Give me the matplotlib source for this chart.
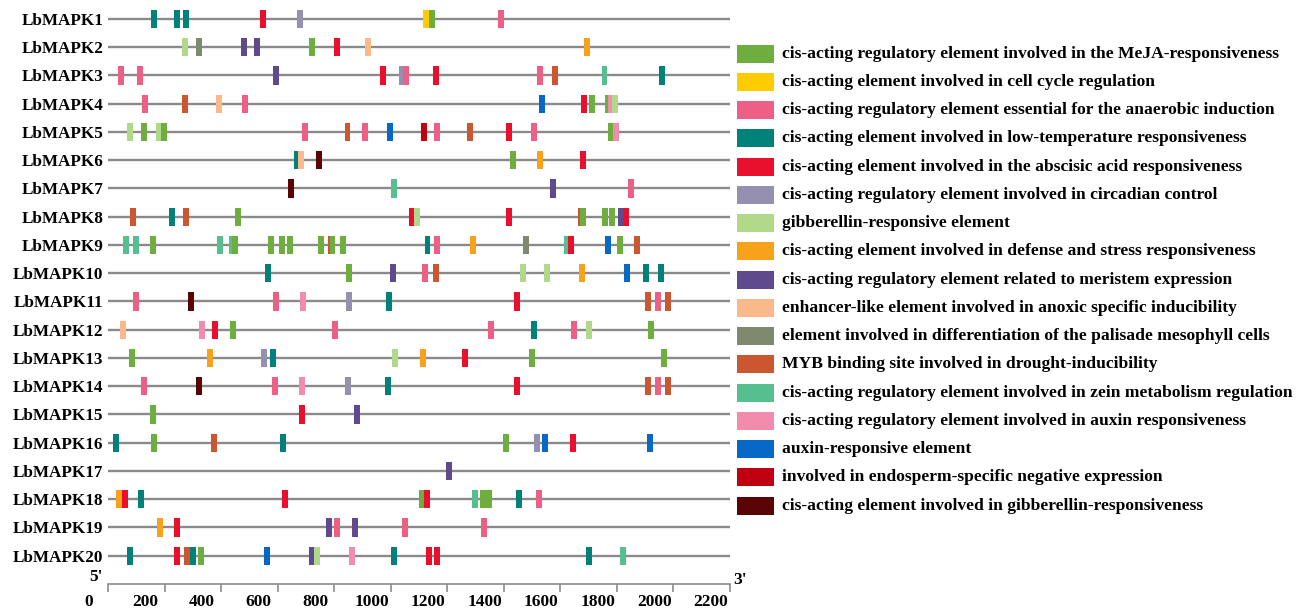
import numpy as np
import matplotlib.pyplot as plt
from matplotlib.transforms import ScaledTranslation

plt.rcParams['font.family'] = 'Liberation Serif'
plt.rcParams['font.weight'] = 'bold'

# element categories (legend order) and their colours
codes = ['MJ', 'CC', 'AN', 'LT', 'ABA', 'CI', 'GA', 'DS', 'ME',
         'AX', 'PA', 'MY', 'ZE', 'AU', 'AR', 'EN', 'GR']
labels = [
    'cis-acting regulatory element involved in the MeJA-responsiveness',
    'cis-acting element involved in cell cycle regulation',
    'cis-acting regulatory element essential for the anaerobic induction',
    'cis-acting element involved in low-temperature responsiveness',
    'cis-acting element involved in the abscisic acid responsiveness',
    'cis-acting regulatory element involved in circadian control',
    'gibberellin-responsive element',
    'cis-acting element involved in defense and stress responsiveness',
    'cis-acting regulatory element related to meristem expression',
    'enhancer-like element involved in anoxic specific inducibility',
    'element involved in differentiation of the palisade mesophyll cells',
    'MYB binding site involved in drought-inducibility',
    'cis-acting regulatory element involved in zein metabolism regulation',
    'cis-acting regulatory element involved in auxin responsiveness',
    'auxin-responsive element',
    'involved in endosperm-specific negative expression',
    'cis-acting element involved in gibberellin-responsiveness',
]
colors = ['#6DAE3E', '#FFCC00', '#EE5F86', '#00827A', '#E8102C', '#9590B0',
          '#B0D98A', '#F7A21B', '#5E4A8C', '#F9B98A', '#7F8970', '#CC5630',
          '#55BF8F', '#F28CAC', '#0868C8', '#C00010', '#5A0505']
color_of = dict(zip(codes, colors))

genes = ['LbMAPK%d' % i for i in range(1, 21)]

# promoter elements per gene: (position, element)
sites = [
    [(163, 'LT'), (244, 'LT'), (275, 'LT'), (549, 'ABA'), (678, 'CI'),
     (1124, 'CC'), (1146, 'MJ'), (1389, 'AN')],
    [(273, 'GA'), (321, 'PA'), (481, 'ME'), (526, 'ME'), (720, 'MJ'),
     (810, 'ABA'), (919, 'AX'), (1694, 'DS')],
    [(46, 'AN'), (112, 'AN'), (594, 'ME'), (974, 'ABA'), (1039, 'CI'),
     (1054, 'AN'), (1161, 'ABA'), (1529, 'AN'), (1582, 'MY'), (1756, 'ZE'),
     (1958, 'LT')],
    [(130, 'AN'), (272, 'MY'), (393, 'AX'), (486, 'AN'), (1536, 'AR'),
     (1685, 'ABA'), (1712, 'MJ'), (1769, 'MJ'), (1780, 'AU'), (1792, 'GA')],
    [(78, 'GA'), (127, 'MJ'), (181, 'GA'), (199, 'MJ'), (698, 'AN'),
     (847, 'MY'), (910, 'AN'), (999, 'AR'), (1119, 'EN'), (1164, 'AN'),
     (1280, 'MY'), (1419, 'ABA'), (1508, 'AN'), (1779, 'MJ'), (1796, 'AU')],
    [(668, 'LT'), (683, 'AX'), (746, 'GR'), (1433, 'MJ'), (1528, 'DS'),
     (1680, 'ABA')],
    [(647, 'GR'), (1012, 'ZE'), (1575, 'ME'), (1849, 'AN')],
    [(88, 'MY'), (225, 'LT'), (275, 'MY'), (460, 'MJ'), (1074, 'ABA'),
     (1092, 'GA'), (1417, 'ABA'), (1673, 'MY'), (1680, 'MJ'), (1758, 'MJ'),
     (1782, 'MJ'), (1813, 'ME'), (1832, 'ABA')],
    [(65, 'ZE'), (99, 'ZE'), (158, 'MJ'), (397, 'ZE'), (437, 'ZE'),
     (449, 'MJ'), (578, 'MJ'), (615, 'MJ'), (643, 'MJ'), (755, 'MJ'),
     (790, 'MY'), (794, 'MJ'), (831, 'MJ'), (1130, 'LT'), (1164, 'AN'),
     (1292, 'DS'), (1480, 'PA'), (1624, 'ZE'), (1639, 'ABA'), (1768, 'AR'),
     (1811, 'MJ'), (1870, 'MY')],
    [(567, 'LT'), (852, 'MJ'), (1009, 'ME'), (1120, 'AN'), (1160, 'MY'),
     (1467, 'GA'), (1553, 'GA'), (1678, 'DS'), (1836, 'AR'), (1904, 'LT'),
     (1957, 'LT')],
    [(99, 'AN'), (295, 'GR'), (593, 'AN'), (690, 'AU'), (852, 'CI'),
     (993, 'LT'), (1448, 'ABA'), (1910, 'MY'), (1945, 'AN'), (1982, 'MY')],
    [(53, 'AX'), (331, 'AU'), (378, 'ABA'), (443, 'MJ'), (802, 'AN'),
     (1355, 'AN'), (1508, 'LT'), (1647, 'AN'), (1701, 'GA'), (1922, 'MJ')],
    [(84, 'MJ'), (360, 'DS'), (552, 'CI'), (584, 'LT'), (1015, 'GA'),
     (1113, 'DS'), (1262, 'ABA'), (1501, 'MJ'), (1967, 'MJ')],
    [(126, 'AN'), (321, 'GR'), (590, 'AN'), (686, 'AU'), (849, 'CI'),
     (989, 'LT'), (1448, 'ABA'), (1910, 'MY'), (1945, 'AN'), (1982, 'MY')],
    [(160, 'MJ'), (687, 'ABA'), (880, 'ME')],
    [(27, 'LT'), (164, 'MJ'), (374, 'MY'), (618, 'LT'), (1409, 'MJ'),
     (1516, 'CI'), (1546, 'AR'), (1645, 'ABA'), (1916, 'AR')],
    [(1206, 'ME')],
    [(40, 'DS'), (61, 'ABA'), (116, 'LT'), (626, 'ABA'), (1111, 'MJ'),
     (1127, 'ABA'), (1297, 'ZE'), (1328, 'MJ'), (1348, 'MJ'), (1453, 'LT'),
     (1523, 'AN')],
    [(184, 'DS'), (244, 'ABA'), (783, 'ME'), (810, 'AN'), (874, 'ME'),
     (1052, 'AN'), (1330, 'AN')],
    [(77, 'LT'), (245, 'ABA'), (280, 'MY'), (302, 'LT'), (329, 'MJ'),
     (561, 'AR'), (722, 'ME'), (740, 'GA'), (862, 'AU'), (1012, 'LT'),
     (1134, 'ABA'), (1163, 'ABA'), (1700, 'LT'), (1823, 'ZE')],
]

gene_len = 2200
xticks = np.arange(0, 2201, 200)

W, H = 1306, 611
fig = plt.figure(figsize=(W / 100, H / 100), dpi=100)
ax = fig.add_axes([108 / W, 1 - 584 / H, 622 / W, 579.13 / H])

rows = np.arange(1, len(genes) + 1)
for y, gene_sites in zip(rows, sites):
    ax.plot([0, gene_len], [y, y], color='#8A8A8A', lw=1.7, zorder=1,
            solid_capstyle='butt')
    for pos, code in gene_sites:
        ax.barh(y, 21, left=pos - 10.5, height=0.64, color=color_of[code],
                edgecolor='none', zorder=2)

ax.set_xlim(0, gene_len)
ax.set_ylim(21, 0.5)
ax.set_yticks(rows)
ax.set_yticklabels(genes, fontsize=12.3, fontweight='bold')
ax.tick_params(axis='y', length=0, pad=3.5)
ax.set_xticks(xticks)
ax.set_xticklabels([str(t) for t in xticks], fontsize=12.5, fontweight='bold')
ax.tick_params(axis='x', direction='out', length=6, width=1.2,
               color='#8C8C8C', pad=1.5)
for lab in ax.get_xticklabels():
    lab.set_transform(lab.get_transform() +
                      ScaledTranslation(-0.19, 0, fig.dpi_scale_trans))
for side in ['left', 'top', 'right']:
    ax.spines[side].set_visible(False)
ax.spines['bottom'].set_color('#8C8C8C')
ax.spines['bottom'].set_linewidth(1.2)

fig.text(96 / W, 1 - 577 / H, "5'", fontsize=12.5, fontweight='bold',
         ha='center', va='center')
fig.text(740 / W, 1 - 580 / H, "3'", fontsize=12.5, fontweight='bold',
         ha='center', va='center')

# legend drawn in its own axes, rows aligned with the gene rows
lax = fig.add_axes([737 / W, 1 - 584 / H, (W - 737) / W, 579.13 / H])
lax.set_xlim(737, W)
lax.set_ylim(21, 0.5)
lax.axis('off')
leg_y = 2.224 + np.arange(len(codes))
lax.barh(leg_y, 37, left=737, height=0.64, color=colors, edgecolor='none')
for y, txt in zip(leg_y, labels):
    lax.text(782, y, txt, fontsize=12.6, fontweight='bold', va='center',
             ha='left')

fig.savefig('out.png', dpi=100)
